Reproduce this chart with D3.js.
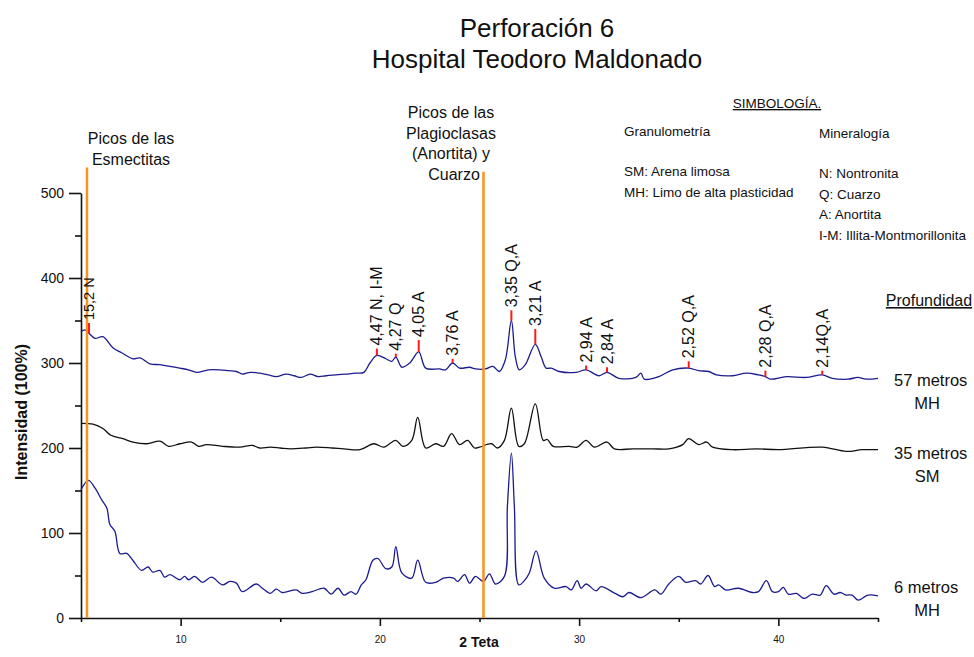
<!DOCTYPE html>
<html><head><meta charset="utf-8">
<script src="https://cdn.jsdelivr.net/npm/d3@7"></script>
<style>
html,body{margin:0;padding:0;background:#fff;}
text{font-family:"Liberation Sans",Arial,sans-serif;fill:#111;}
</style></head>
<body>
<script>
// ---- data ----
const xTicks = [10, 20, 30, 40];
const xMinorTicks = [5, 15, 25, 35, 45];
const yTicks = [0, 100, 200, 300, 400, 500];
const yMinorTicks = [50, 150, 250, 350, 450];

// 57 metros (MH)
const series57 = [[5.0,337],[5.2,339],[5.4,335],[5.7,329],[6.1,331],[6.6,318],[7.04,312],[7.6,305],[7.96,306],[8.46,299],[8.96,298],[9.46,296],[9.96,294],[10.4,292],[10.8,289],[11.4,292],[11.97,292],[12.4,291],[12.8,290],[13.1,287],[13.5,289],[13.97,288],[14.4,286],[14.8,284],[15.3,287],[15.7,285],[16.06,283],[16.5,287],[16.9,284],[17.3,285],[17.8,286],[18.3,287],[18.8,288],[19.2,289],[19.5,300],[19.85,309],[20.3,305],[20.6,302],[20.8,307],[21.1,295],[21.5,300],[21.95,313],[22.3,294],[23.0,293],[23.3,292],[23.65,300],[24.0,294],[24.5,295],[24.8,293],[25.3,293],[25.67,296],[26.0,290],[26.3,304],[26.6,350],[26.8,307],[27.0,292],[27.3,298],[27.8,322],[28.1,307],[28.34,294],[28.6,294],[29.0,290],[29.85,289],[30.35,292],[31.0,285],[31.4,289],[32.0,282],[32.85,283],[33.1,288],[33.27,281],[34.0,284],[34.7,292],[35.5,294],[36.0,291],[36.5,290],[36.9,286],[37.7,285],[38.4,288],[39.0,286],[39.35,284],[39.6,281],[40.4,284],[41.4,283],[42.2,286],[42.7,282],[43.5,281],[44.0,283],[44.4,281],[45.0,282]];

// 35 metros (SM)
const series35 = [[5.0,229],[5.6,228],[6.1,223],[6.5,215],[7.1,211],[7.6,207],[8.3,205],[8.96,208],[9.4,202],[9.96,205],[10.55,207],[10.9,202],[11.3,204],[12.1,202],[12.97,201],[13.6,203],[13.97,200],[14.5,201],[15.0,200],[15.5,199],[16.3,200],[16.8,201],[17.6,200],[18.2,199],[19.0,198],[19.7,205],[20.2,201],[20.8,209],[21.15,202],[21.6,209],[21.9,236],[22.3,200],[22.8,205],[23.2,202],[23.6,217],[24.0,204],[24.4,209],[24.75,200],[25.0,201],[25.6,205],[25.9,200],[26.25,209],[26.6,247],[26.97,202],[27.25,205],[27.8,252],[28.2,209],[28.4,210],[28.7,202],[29.5,202],[29.9,201],[30.35,209],[30.77,201],[31.4,207],[31.77,199],[32.7,199],[33.7,199],[34.5,199],[35.2,204],[35.5,211],[36.0,204],[36.4,207],[36.7,201],[37.7,198],[38.9,199],[40.0,198],[42.2,201],[43.4,196],[44.2,198],[45.0,198]];

// 6 metros (MH)
const series6 = [[5.0,151],[5.37,162],[5.7,153],[6.04,139],[6.3,129],[6.45,110],[6.7,102],[6.95,76],[7.3,76],[7.6,68],[8.04,56],[8.37,60],[8.6,54],[8.96,56],[9.2,48],[9.46,51],[9.96,45],[10.2,49],[10.4,45],[10.7,49],[11.1,42],[11.55,48],[12.1,39],[12.47,43],[12.8,41],[13.1,31],[13.8,40],[14.1,35],[14.5,29],[14.8,34],[15.1,30],[15.8,33],[16.1,29],[16.6,31],[17.2,35],[17.55,28],[17.9,35],[18.2,27],[18.55,31],[18.8,28],[19.07,39],[19.3,45],[19.65,68],[19.9,70],[20.3,58],[20.6,60],[20.8,84],[21.1,53],[21.6,47],[21.9,68],[22.3,42],[22.8,42],[23.2,47],[23.7,47],[23.9,43],[24.25,51],[24.5,41],[24.8,49],[25.2,43],[25.5,52],[25.8,40],[26.25,49],[26.4,131],[26.6,194],[26.75,131],[26.97,39],[27.25,44],[27.5,53],[27.84,79],[28.25,47],[28.76,35],[29.35,37],[29.6,33],[29.9,44],[30.1,35],[30.35,40],[30.85,32],[31.1,37],[31.8,29],[32.2,25],[32.5,30],[33.1,24],[33.8,33],[34.1,28],[34.5,40],[35.0,49],[35.35,42],[35.85,44],[36.1,40],[36.47,50],[36.8,37],[37.0,39],[37.35,33],[38.0,35],[38.7,30],[39.0,31],[39.4,44],[39.7,31],[40.0,31],[40.25,36],[40.5,28],[40.9,29],[41.3,23],[41.7,28],[42.1,27],[42.4,38],[42.8,28],[43.1,30],[43.4,27],[43.7,27],[44.0,21],[44.5,27],[45.0,26]];

// peak markers on the 57 m pattern
const peakTheta = [5.4, 19.85, 20.8, 21.95, 23.65, 26.6, 27.8, 30.35, 31.4, 35.5, 39.35, 42.2];
const peakBase  = [335, 309, 307, 313, 300, 350, 322, 292, 289, 294, 284, 286];
const peakTop   = [347, 317, 311, 327, 305, 362, 340, 297, 295, 302, 291, 291];
const peakLabels = ["15,2 N", "4,47 N, I-M", "4,27 Q", "4,05 A", "3,76 A", "3,35 Q,A", "3,21 A", "2,94 A", "2,84 A", "2,52 Q,A", "2,28 Q,A", "2,14Q,A"];

// reference lines (2θ) and their top (intensity units)
const refLines = [5.3, 25.2];
const refTops = [530, 525];

const depthLabels = [["57 metros", "MH"], ["35 metros", "SM"], ["6 metros", "MH"]];
const titleLines = ["Perforación 6", "Hospital Teodoro Maldonado"];

// ---- drawing ----
const W = 974, H = 657;
const svg = d3.select("body").append("svg").attr("width", W).attr("height", H);

const x = d3.scaleLinear().domain([5, 45]).range([81, 878]);
const y = d3.scaleLinear().domain([0, 500]).range([618, 193]);

// axes
const yAxis = svg.append("g").attr("transform", `translate(${x(5)},0)`)
  .call(d3.axisLeft(y).tickValues(yTicks).tickSize(12).tickSizeOuter(0).tickPadding(5));
svg.append("g").attr("transform", `translate(${x(5)},0)`)
  .call(d3.axisLeft(y).tickValues(yMinorTicks).tickSize(6).tickFormat("")).select(".domain").remove();
yAxis.selectAll("text").style("font-size", "14px").attr("fill", "#111");

const xAxis = svg.append("g").attr("transform", `translate(0,${y(0)})`)
  .call(d3.axisBottom(x).tickValues(xTicks).tickSize(8).tickSizeOuter(0).tickPadding(10));
svg.append("g").attr("transform", `translate(0,${y(0)})`)
  .call(d3.axisBottom(x).tickValues(xMinorTicks).tickSize(4).tickFormat("")).select(".domain").remove();
xAxis.selectAll("text").style("font-size", "10px").attr("fill", "#111");
svg.selectAll(".domain, .tick line").attr("stroke", "#111").attr("stroke-width", 1.6);

// series
const line = d3.line().x(d => x(d[0])).y(d => y(d[1])).curve(d3.curveCatmullRom.alpha(0.5));
svg.append("path").datum(series6).attr("d", line).attr("fill", "none").attr("stroke", "#1c1c8f").attr("stroke-width", 1.3);
svg.append("path").datum(series35).attr("d", line).attr("fill", "none").attr("stroke", "#111").attr("stroke-width", 1.3);
svg.append("path").datum(series57).attr("d", line).attr("fill", "none").attr("stroke", "#1c1c8f").attr("stroke-width", 1.3);

// orange reference lines
refLines.forEach((v, i) => {
  svg.append("line").attr("x1", x(v)).attr("x2", x(v)).attr("y1", y(0)).attr("y2", y(refTops[i]))
    .attr("stroke", "#f7931e").attr("stroke-width", 2.5);
});

// peak markers
peakTheta.forEach((v, i) => {
  svg.append("line").attr("x1", x(v)).attr("x2", x(v)).attr("y1", y(peakBase[i])).attr("y2", y(peakTop[i]))
    .attr("stroke", "#ff1a1a").attr("stroke-width", 2);
  svg.append("text").attr("transform", `translate(${x(v)},${y(peakTop[i]) - 3}) rotate(-90)`)
    .attr("dy", "0.35em").style("font-size", i === 0 ? "14.5px" : "16px").text(peakLabels[i]);
});

// titles
titleLines.forEach((t, i) => {
  svg.append("text").attr("x", 537).attr("y", 37 + i * 31).attr("text-anchor", "middle")
    .style("font-size", "26px").text(t);
});

// annotations
const ann1 = ["Picos de las", "Esmectitas"];
ann1.forEach((t, i) => svg.append("text").attr("x", 131).attr("y", 144 + i * 21).attr("text-anchor", "middle").style("font-size", "16px").text(t));
const ann2 = ["Picos de las", "Plagioclasas", "(Anortita) y", "Cuarzo"];
ann2.forEach((t, i) => svg.append("text").attr("x", i === 3 ? 454 : 451).attr("y", 118 + i * 20.5).attr("text-anchor", "middle").style("font-size", "16px").text(t));

// legend
svg.append("text").attr("x", 777).attr("y", 108).attr("text-anchor", "middle").style("font-size", "13.5px").style("text-decoration", "underline").text("SIMBOLOGÍA.");
svg.append("text").attr("x", 624).attr("y", 136).style("font-size", "13.5px").text("Granulometría");
svg.append("text").attr("x", 819).attr("y", 138).style("font-size", "13.5px").text("Mineralogía");
["SM: Arena limosa", "MH: Limo de alta plasticidad"].forEach((t, i) =>
  svg.append("text").attr("x", 624).attr("y", 176 + i * 21).style("font-size", "13.5px").text(t));
["N: Nontronita", "Q: Cuarzo", "A: Anortita", "I-M: Illita-Montmorillonita"].forEach((t, i) =>
  svg.append("text").attr("x", 819).attr("y", 178 + i * 20.7).style("font-size", "13.5px").text(t));

svg.append("text").attr("x", 929).attr("y", 306).attr("text-anchor", "middle").style("font-size", "16px").style("text-decoration", "underline").text("Profundidad");
const depthY = [386, 459, 593];
depthLabels.forEach((pair, i) => {
  svg.append("text").attr("x", 894).attr("y", depthY[i]).style("font-size", "16.5px").text(pair[0]);
  svg.append("text").attr("x", 927).attr("y", depthY[i] + 23).attr("text-anchor", "middle").style("font-size", "16.5px").text(pair[1]);
});

// axis titles
svg.append("text").attr("transform", `translate(21,412) rotate(-90)`).attr("dy", "0.35em").attr("text-anchor", "middle")
  .style("font-size", "16px").style("font-weight", "bold").text("Intensidad (100%)");
svg.append("text").attr("x", 479).attr("y", 647).attr("text-anchor", "middle").style("font-size", "14px").style("font-weight", "bold").text("2 Teta");
</script>
</body></html>
